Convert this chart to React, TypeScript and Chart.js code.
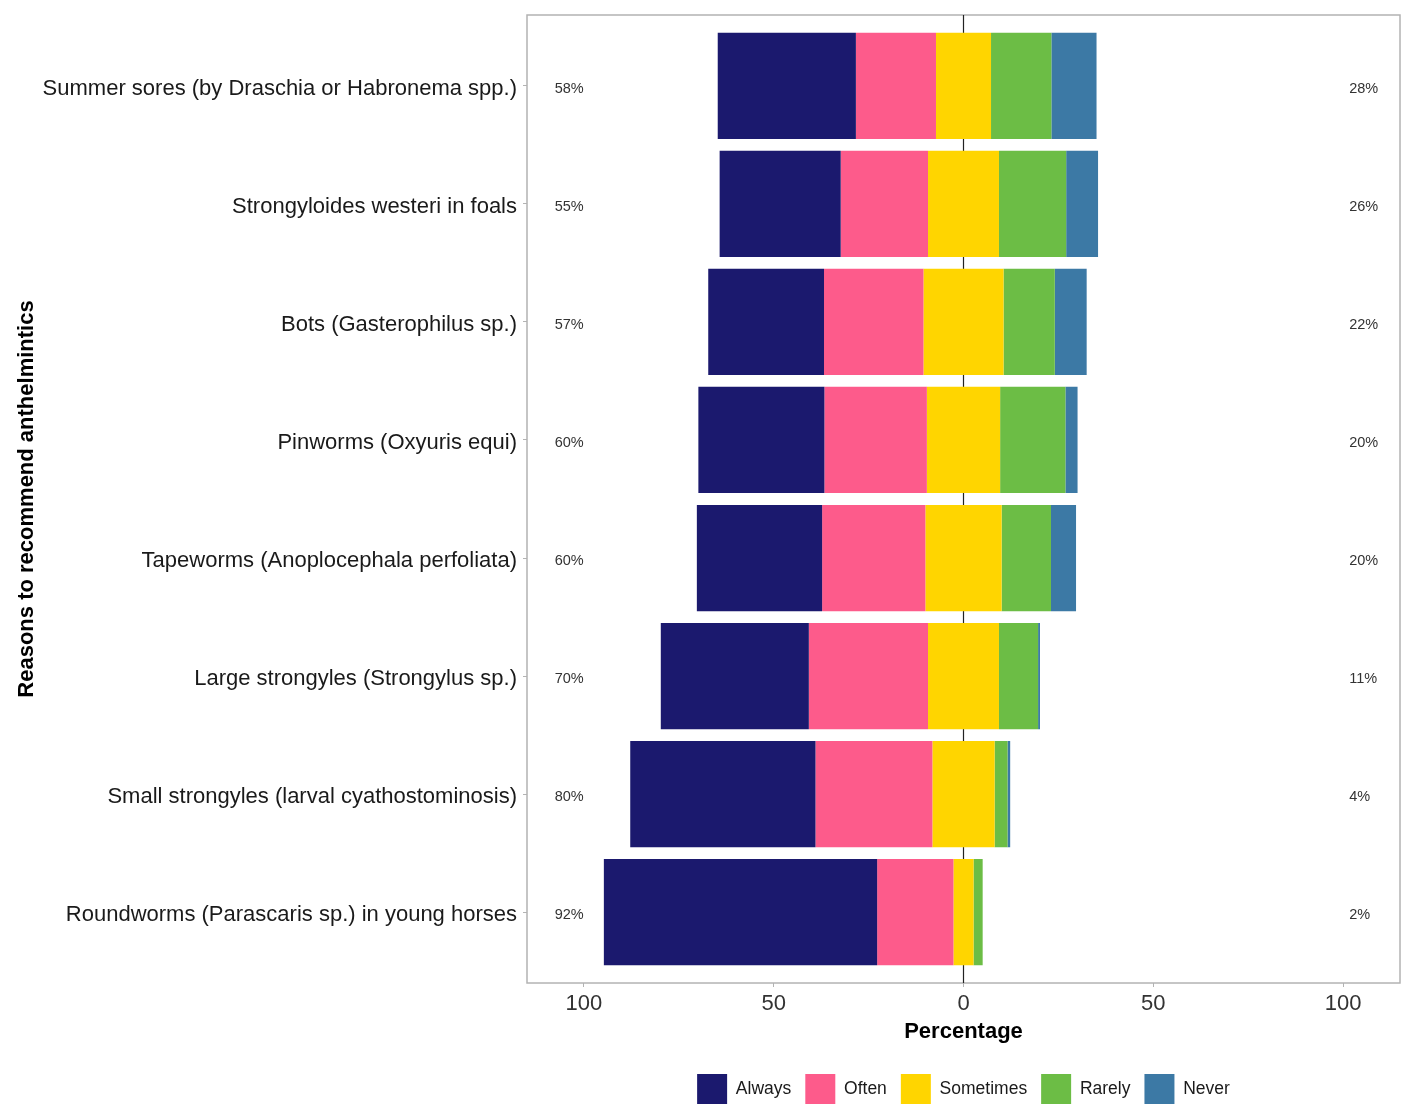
import { useEffect, useRef } from "react"
import { Chart, registerables } from "chart.js"

Chart.register(...registerables)

const categories = [
  "Summer sores (by Draschia or Habronema spp.)",
  "Strongyloides westeri in foals",
  "Bots (Gasterophilus sp.)",
  "Pinworms (Oxyuris equi)",
  "Tapeworms (Anoplocephala perfoliata)",
  "Large strongyles (Strongylus sp.)",
  "Small strongyles (larval cyathostominosis)",
  "Roundworms (Parascaris sp.) in young horses",
]

const responses = ["Always", "Often", "Sometimes", "Rarely", "Never"]
const colors = ["#1b196e", "#fd5b8b", "#ffd500", "#6cbd45", "#3c79a5"]

// percentages per response level, one value per category (top to bottom)
const always = [36.4, 31.9, 30.5, 33.2, 33.0, 39.0, 48.8, 72.0]
const often = [21.1, 23.0, 26.2, 27.0, 27.2, 31.4, 30.8, 20.1]
const sometimes = [14.5, 18.7, 21.1, 19.3, 20.1, 18.7, 16.4, 5.3]
const rarely = [15.9, 17.7, 13.5, 17.2, 13.0, 10.3, 3.4, 2.4]
const never = [11.9, 8.4, 8.4, 3.2, 6.6, 0.5, 0.7, 0]

const leftLabels = ["58%", "55%", "57%", "60%", "60%", "70%", "80%", "92%"]
const rightLabels = ["28%", "26%", "22%", "20%", "20%", "11%", "4%", "2%"]

const xTicks = [-100, -50, 0, 50, 100]

const FONT = "'Liberation Sans', Arial, sans-serif"

// floating segments: neutral split around zero
function segments() {
  const out: [number, number][][] = [[], [], [], [], []]
  categories.forEach((_, i) => {
    const half = sometimes[i] / 2
    const a0 = -(always[i] + often[i] + half)
    const o0 = -(often[i] + half)
    out[0].push([a0, o0])
    out[1].push([o0, -half])
    out[2].push([-half, half])
    out[3].push([half, half + rarely[i]])
    out[4].push([half + rarely[i], half + rarely[i] + never[i]])
  })
  return out
}

const framePlugin = {
  id: "frame",
  beforeDatasetsDraw(chart: any) {
    const { ctx, chartArea: a, scales } = chart
    ctx.save()
    ctx.strokeStyle = "#b3b3b3"
    ctx.lineWidth = 1.5
    ctx.strokeRect(a.left, a.top, a.right - a.left, a.bottom - a.top)
    const x0 = scales.x.getPixelForValue(0)
    ctx.strokeStyle = "#222222"
    ctx.lineWidth = 1.2
    ctx.beginPath()
    ctx.moveTo(x0, a.top)
    ctx.lineTo(x0, a.bottom)
    ctx.stroke()
    ctx.restore()
  },
  afterDatasetsDraw(chart: any) {
    const { ctx, scales } = chart
    ctx.save()
    ctx.font = `14.5px ${FONT}`
    ctx.fillStyle = "#333333"
    ctx.textAlign = "left"
    ctx.textBaseline = "middle"
    categories.forEach((_, i) => {
      const y = scales.y.getPixelForValue(i) + 3
      ctx.fillText(leftLabels[i], scales.x.getPixelForValue(-107.7), y)
      ctx.fillText(rightLabels[i], scales.x.getPixelForValue(101.6), y)
    })
    ctx.restore()
  },
}

export default function App() {
  const chartRef = useRef<HTMLCanvasElement>(null)
  const chartInstance = useRef<Chart | null>(null)

  useEffect(() => {
    if (!chartRef.current) return
    if (chartInstance.current) chartInstance.current.destroy()

    const segs = segments()

    chartInstance.current = new Chart(chartRef.current, {
      type: "bar",
      data: {
        datasets: responses.map((name, k) => ({
          label: name,
          data: categories.map((_, i) => ({ y: i, x: segs[k][i] })) as any,
          backgroundColor: colors[k],
          borderWidth: 0,
          grouped: false,
          categoryPercentage: 0.9,
          barPercentage: 1,
        })),
      },
      options: {
        indexAxis: "y",
        animation: false,
        responsive: true,
        maintainAspectRatio: false,
        layout: { padding: { top: 15, right: 18, bottom: 0, left: 0 } },
        scales: {
          x: {
            type: "linear",
            min: -115,
            max: 115,
            afterBuildTicks: (axis: any) => {
              axis.ticks = xTicks.map((v) => ({ value: v }))
            },
            afterFit: (axis: any) => {
              axis.height = 77
              axis.paddingLeft = 0
              axis.paddingRight = 0
            },
            grid: { drawOnChartArea: false, color: "#b3b3b3", tickLength: 4 },
            border: { display: false },
            ticks: {
              callback: (v: any) => String(Math.abs(v)),
              color: "#333333",
              font: { family: FONT, size: 22 },
              padding: 4,
            },
            title: {
              display: true,
              text: "Percentage",
              color: "#000000",
              font: { family: FONT, size: 22, weight: "bold" },
              padding: { top: 0, bottom: 15 },
            },
          },
          y: {
            type: "linear",
            min: -0.6,
            max: 7.6,
            offset: false,
            reverse: true,
            afterBuildTicks: (axis: any) => {
              axis.ticks = categories.map((_, i) => ({ value: i }))
            },
            afterFit: (axis: any) => {
              axis.width = 527
              axis.paddingTop = 0
              axis.paddingBottom = 0
            },
            grid: { drawOnChartArea: false, offset: false, color: "#b3b3b3", tickLength: 4 },
            border: { display: false },
            ticks: {
              callback: (v: any) => categories[v] ?? "",
              color: "#1a1a1a",
              font: { family: FONT, size: 22 },
              padding: 6,
              labelOffset: 3,
            },
            title: {
              display: true,
              text: "Reasons to recommend anthelmintics",
              color: "#000000",
              font: { family: FONT, size: 22, weight: "bold" },
              padding: { top: 14, bottom: 0 },
            },
          },
        },
        plugins: {
          legend: {
            position: "bottom",
            fullSize: false,
            labels: {
              boxWidth: 30,
              boxHeight: 30,
              padding: 14,
              color: "#1a1a1a",
              font: { family: FONT, size: 17.5 },
            },
          },
          tooltip: { enabled: false },
        },
      },
      plugins: [framePlugin],
    })

    return () => {
      if (chartInstance.current) {
        chartInstance.current.destroy()
        chartInstance.current = null
      }
    }
  }, [])

  return (
    <div style={{ position: "absolute", left: 0, top: 0, width: 1418, height: 1114, background: "#ffffff" }}>
      <canvas ref={chartRef} />
    </div>
  )
}
